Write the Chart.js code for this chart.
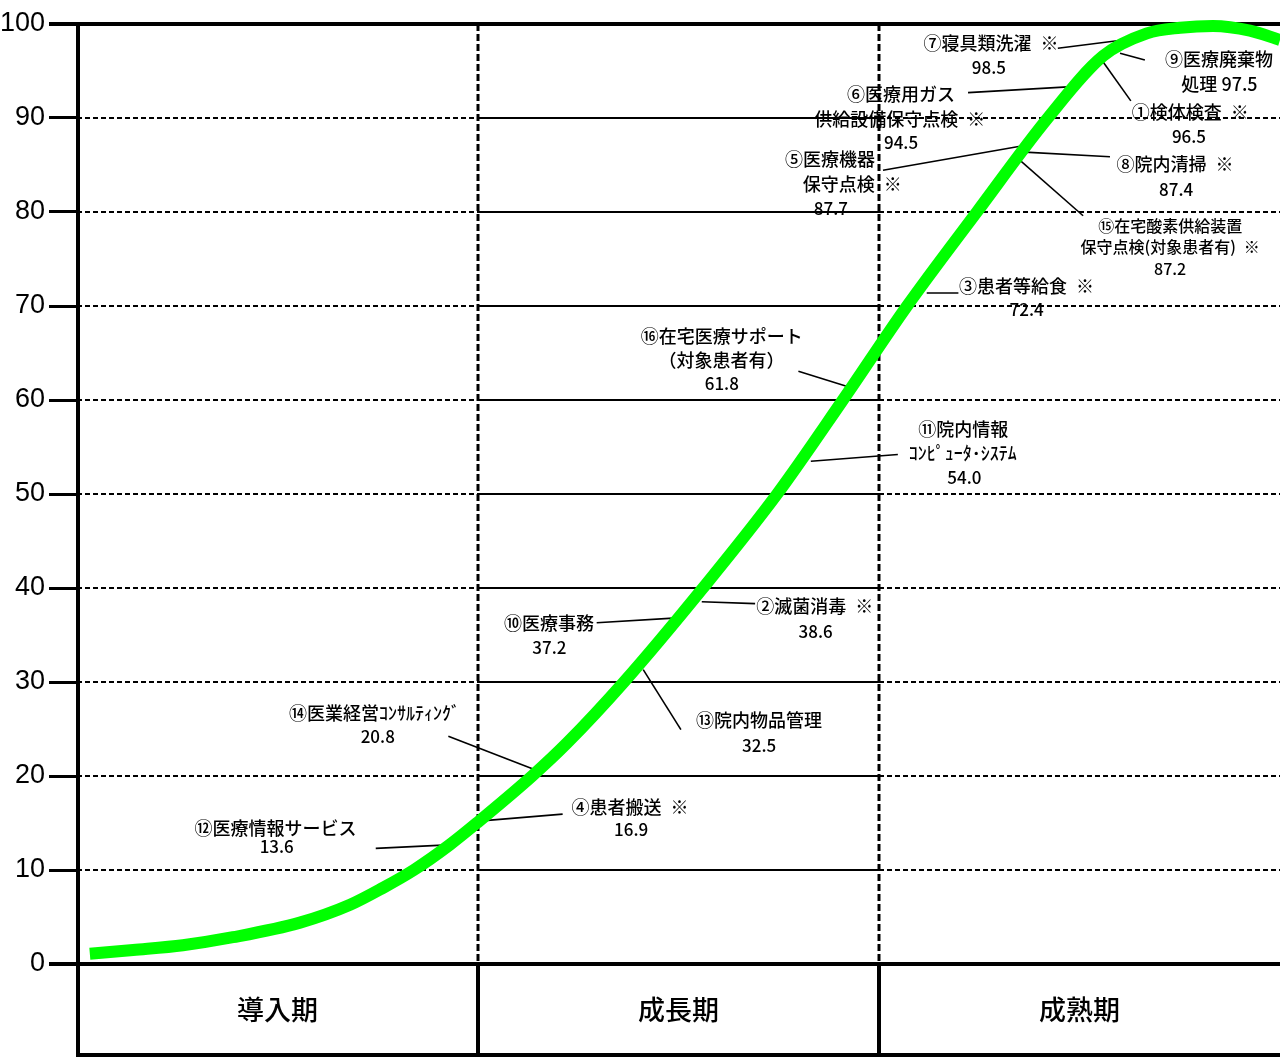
<!DOCTYPE html>
<html><head><meta charset="utf-8">
<script src="https://cdn.jsdelivr.net/npm/chart.js@4.4.0/dist/chart.umd.min.js"></script>
<style>html,body{margin:0;padding:0;background:#fff;overflow:hidden}canvas{display:block}</style>
</head><body>
<canvas id="c" width="1280" height="1057"></canvas>
<script>
// ---------------- data ----------------
const phaseLabels = ['導入期', '成長期', '成熟期'];
const yTickValues = [0, 10, 20, 30, 40, 50, 60, 70, 80, 90, 100];

// life-cycle curve (x: phase units 0..3, y: %)
const curveX = [0.032, 0.140, 0.264, 0.389, 0.556, 0.681, 0.763, 0.840, 0.930, 1.0, 1.135, 1.222, 1.364, 1.561, 1.746, 1.910, 2.070, 2.244, 2.421, 2.559, 2.668, 2.751, 2.833, 2.925, 3.0];
const curveY = [1.1, 1.5, 2.0, 2.85, 4.4, 6.3, 8.1, 10.0, 12.7, 15.1, 20.0, 23.5, 30, 40, 50, 60, 70, 80, 90, 96.6, 99.0, 99.6, 99.8, 99.3, 98.3];

// items (①〜⑯)
const itemNames = [
  '①検体検査\u2002※', '②滅菌消毒\u2002※', '③患者等給食\u2002※', '④患者搬送\u2002※',
  '⑤医療機器\n保守点検\u2002※', '⑥医療用ガス\n供給設備保守点検\u2002※', '⑦寝具類洗濯\u2002※', '⑧院内清掃\u2002※',
  '⑨医療廃棄物\n処理', '⑩医療事務', '⑪院内情報\nｺﾝﾋﾟｭｰﾀ･ｼｽﾃﾑ', '⑫医療情報サービス',
  '⑬院内物品管理', '⑭医業経営ｺﾝｻﾙﾃｨﾝｸﾞ', '⑮在宅酸素供給装置\n保守点検(対象患者有)\u2002※', '⑯在宅医療サポート\n（対象患者有）'
];
const itemValues = [96.5, 38.6, 72.4, 16.9, 87.7, 94.5, 98.5, 87.4, 97.5, 37.2, 54.0, 13.6, 32.5, 20.8, 87.2, 61.8];

// ---------------- layout (data coordinates: x phase units, y %) ----------------
const labelLines = [
  [[2.776, 90.57], [2.773, 87.99]],
  [[1.840, 38.04], [1.842, 35.42]],
  [[2.368, 72.16], [2.368, 69.57]],
  [[1.379, 16.72], [1.382, 14.31]],
  [[1.878, 85.62], [1.933, 82.97], [1.880, 80.41]],
  [[2.055, 92.53], [2.052, 89.87], [2.055, 87.39]],
  [[2.279, 98.01], [2.274, 95.36]],
  [[2.738, 85.09], [2.741, 82.43]],
  [[2.848, 96.25], [2.849, 93.59]],
  [[1.177, 36.21], [1.178, 33.66]],
  [[2.210, 56.93], [2.209, 54.34], [2.213, 51.79]],
  [[0.495, 14.42], [0.498, 12.47]],
  [[1.701, 25.93], [1.701, 23.27]],
  [[0.742, 26.71], [0.750, 24.16]],
  [[2.726, 78.53], [2.726, 76.30], [2.726, 73.93]],
  [[1.608, 66.84], [1.607, 64.26], [1.608, 61.71]]
];
const leaderLines = [
  [[2.559, 95.96], [2.628, 91.82]],
  [[1.558, 38.54], [1.691, 38.34]],
  [[2.119, 71.38], [2.198, 71.38]],
  [[1.009, 15.23], [1.211, 15.94]],
  [[2.359, 87.04], [2.010, 84.45]],
  [[2.471, 93.31], [2.222, 92.70]],
  [[2.668, 98.62], [2.446, 97.42]],
  [[2.352, 86.40], [2.576, 85.87]],
  [[2.601, 96.89], [2.663, 96.17]],
  [[1.487, 36.80], [1.296, 36.31]],
  [[1.830, 53.49], [2.047, 54.20]],
  [[0.913, 12.65], [0.745, 12.30]],
  [[1.412, 31.32], [1.506, 24.94]],
  [[1.155, 20.44], [0.926, 24.23]],
  [[2.344, 85.79], [2.509, 79.60]],
  [[1.923, 61.42], [1.799, 63.05]]
];
const valueInline = [false,false,false,false,false,false,false,false,true,false,false,false,false,false,false,false];
const labelFontSize = [18,18,18,18,18,18,18,18,18,18,18,18,18,18,16,18];
const valueFontSize = [17,17,17,17,17,17,17,17,17,17,17,17,17,17,16,17];

const CJK = "'Noto Sans CJK JP', 'Noto Sans', sans-serif";
const NUMF = "'Liberation Sans', Arial, sans-serif";

function buildLines(i) {
  const parts = itemNames[i].split('\n');
  const v = itemValues[i].toFixed(1);
  const out = parts.map(t => ({ text: t, size: labelFontSize[i] }));
  if (valueInline[i]) out[out.length - 1].text += ' ' + v;
  else out.push({ text: v, size: valueFontSize[i] });
  return out;
}

const framePlugin = {
  id: 'frame',
  beforeDatasetsDraw(chart) {
    const { ctx, chartArea: a, scales: { x, y } } = chart;
    const H = chart.height;
    ctx.save();
    ctx.strokeStyle = '#000';
    // horizontal grid lines: dashed in 導入期/成熟期, solid in 成長期
    yTickValues.forEach(v => {
      if (v === 0 || v === 100) return;
      const py = Math.round(y.getPixelForValue(v));
      for (let p = 0; p < 3; p++) {
        const x0 = x.getPixelForValue(p), x1 = x.getPixelForValue(p + 1);
        ctx.beginPath();
        ctx.lineWidth = 2;
        ctx.setLineDash(p === 1 ? [] : [5, 3]);
        ctx.moveTo(x0, py); ctx.lineTo(x1, py); ctx.stroke();
      }
    });
    // phase separators
    [1, 2].forEach(p => {
      const px = Math.round(x.getPixelForValue(p));
      ctx.beginPath(); ctx.lineWidth = 3; ctx.setLineDash([7, 3]);
      ctx.moveTo(px, a.top); ctx.lineTo(px, a.bottom); ctx.stroke();
      ctx.beginPath(); ctx.lineWidth = 4; ctx.setLineDash([]);
      ctx.moveTo(px, a.bottom); ctx.lineTo(px, H); ctx.stroke();
    });
    ctx.setLineDash([]);
    ctx.lineWidth = 4;
    // top (100) and zero lines
    [100, 0].forEach(v => {
      const py = Math.round(y.getPixelForValue(v));
      ctx.beginPath(); ctx.moveTo(a.left - 28, py); ctx.lineTo(a.right, py); ctx.stroke();
    });
    // left axis
    ctx.beginPath(); ctx.moveTo(a.left + 1, a.top - 2); ctx.lineTo(a.left + 1, H); ctx.stroke();
    // bottom of phase row
    ctx.beginPath(); ctx.moveTo(a.left, H - 2); ctx.lineTo(a.right, H - 2); ctx.stroke();
    // leader lines
    ctx.lineWidth = 1.6;
    leaderLines.forEach(l => {
      ctx.beginPath();
      ctx.moveTo(x.getPixelForValue(l[0][0]), y.getPixelForValue(l[0][1]));
      ctx.lineTo(x.getPixelForValue(l[1][0]), y.getPixelForValue(l[1][1]));
      ctx.stroke();
    });
    ctx.restore();
  },
  afterDatasetsDraw(chart) {
    const { ctx, scales: { x, y } } = chart;
    ctx.save();
    ctx.fillStyle = '#000';
    ctx.textAlign = 'center';
    ctx.textBaseline = 'middle';
    itemNames.forEach((_, i) => {
      buildLines(i).forEach((ln, j) => {
        const pos = labelLines[i][j];
        ctx.font = `500 ${ln.size}px ${CJK}`;
        ctx.fillText(ln.text, x.getPixelForValue(pos[0]), y.getPixelForValue(pos[1]));
      });
    });
    ctx.restore();
  }
};

new Chart(document.getElementById('c'), {
  type: 'line',
  data: {
    datasets: [{
      data: curveX.map((v, i) => ({ x: v, y: curveY[i] })),
      borderColor: '#00ff00',
      borderWidth: 12,
      pointRadius: 0,
      fill: false,
      cubicInterpolationMode: 'monotone',
      borderCapStyle: 'butt',
      clip: false
    }]
  },
  options: {
    responsive: false,
    animation: false,
    events: [],
    layout: { autoPadding: false, padding: { top: 24, right: 0, left: 0, bottom: 0 } },
    plugins: { legend: { display: false }, tooltip: { enabled: false } },
    scales: {
      x: {
        type: 'linear', min: 0, max: 3,
        grid: { display: false, drawTicks: false },
        border: { display: false },
        ticks: {
          stepSize: 0.5, autoSkip: false, maxRotation: 0, padding: 30,
          color: '#000', font: { size: 27, family: CJK, weight: '500' },
          callback: v => (Math.abs(v % 1 - 0.5) < 1e-6 ? phaseLabels[Math.floor(v)] : '')
        },
        afterFit: s => { s.height = 93; s.paddingLeft = 0; s.paddingRight = 0; }
      },
      y: {
        min: 0, max: 100,
        grid: { display: true, drawOnChartArea: false, drawTicks: true, tickLength: 28, tickWidth: 3, tickColor: '#000' },
        border: { display: false },
        ticks: {
          stepSize: 10, padding: 4, color: '#000',
          font: { size: 27, family: NUMF },
          callback: v => (yTickValues.includes(v) ? String(v) : '')
        },
        afterFit: s => { s.width = 77; s.paddingTop = 0; s.paddingBottom = 0; }
      }
    }
  },
  plugins: [framePlugin]
});
</script>
</body></html>
